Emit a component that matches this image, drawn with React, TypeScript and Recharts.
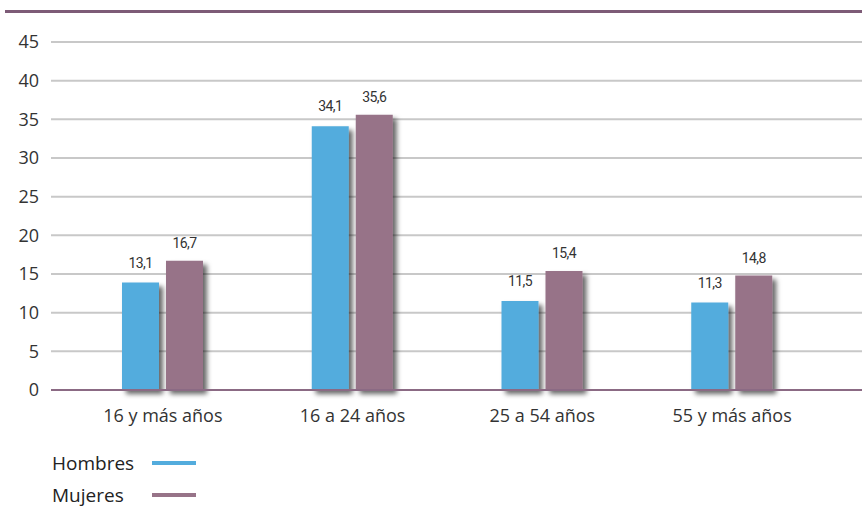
import { BarChart, Bar, XAxis, YAxis, CartesianGrid, LabelList } from "recharts";

const categorias = ["16 y más años", "16 a 24 años", "25 a 54 años", "55 y más años"];
const hombres = [13.9, 34.1, 11.5, 11.3];
const hombresEtiquetas = ["13,1", "34,1", "11,5", "11,3"];
const mujeres = [16.7, 35.6, 15.4, 14.8];
const mujeresEtiquetas = ["16,7", "35,6", "15,4", "14,8"];
const ticksY = [0, 5, 10, 15, 20, 25, 30, 35, 40, 45];

const AZUL = "#53acdd";
const MORADO = "#977388";

const data = categorias.map((c, i) => ({
  name: c,
  hombres: hombres[i],
  hombresLabel: hombresEtiquetas[i],
  mujeres: mujeres[i],
  mujeresLabel: mujeresEtiquetas[i],
}));

const font = "'Open Sans', 'Noto Sans', sans-serif";
const narrow = "Roboto, 'Noto Sans', sans-serif";

function App() {
  return (
    <div
      style={{
        position: "absolute",
        left: 0,
        top: 0,
        width: 862,
        height: 509,
        background: "#fff",
        fontFamily: font,
        overflow: "hidden",
      }}
    >
      <div
        style={{
          position: "absolute",
          left: 5,
          top: 10,
          width: 857,
          height: 3,
          background: "#7d5b77",
        }}
      />
      <BarChart
        width={862}
        height={509}
        data={data}
        margin={{ top: 42, right: 0, bottom: 89, left: 0 }}
        barSize={37}
        barGap={7}
      >
        <defs>
          <filter id="sombra" x="-20%" y="-10%" width="150%" height="130%">
            <feDropShadow dx={4} dy={4} stdDeviation={2.5} floodColor="#000" floodOpacity={0.6} />
          </filter>
        </defs>
        <CartesianGrid vertical={false} stroke="#c8c8c8" strokeWidth={2} />
        <XAxis
          dataKey="name"
          padding={{ left: 17, right: 35 }}
          axisLine={{ stroke: "#8b6a84", strokeWidth: 2 }}
          tickLine={false}
          tickMargin={13}
          height={30}
          tick={{ fill: "#333", fontSize: 18, fontFamily: font }}
        />
        <YAxis
          width={51}
          domain={[0, 45]}
          ticks={ticksY}
          axisLine={false}
          tickLine={false}
          tickSize={0}
          tickMargin={12}
          interval={0}
          tick={{ fill: "#333", fontSize: 18, fontFamily: font }}
        />
        <Bar dataKey="hombres" fill={AZUL} filter="url(#sombra)" isAnimationActive={false}>
          <LabelList
            dataKey="hombresLabel"
            position="top"
            offset={15}
            style={{ fill: "#333", fontSize: 14, fontFamily: narrow, letterSpacing: -0.6 }}
          />
        </Bar>
        <Bar dataKey="mujeres" fill={MORADO} filter="url(#sombra)" isAnimationActive={false}>
          <LabelList
            dataKey="mujeresLabel"
            position="top"
            offset={13}
            style={{ fill: "#333", fontSize: 14, fontFamily: narrow, letterSpacing: -0.6 }}
          />
        </Bar>
      </BarChart>
      {[
        { label: "Hombres", color: AZUL, y: 463 },
        { label: "Mujeres", color: MORADO, y: 495 },
      ].map((l) => (
        <div key={l.label}>
          <div
            style={{
              position: "absolute",
              left: 52,
              top: l.y - 13,
              fontSize: 19,
              lineHeight: "26px",
              color: "#222",
            }}
          >
            {l.label}
          </div>
          <div
            style={{
              position: "absolute",
              left: 152,
              top: l.y - 2,
              width: 44,
              height: 4,
              background: l.color,
            }}
          />
        </div>
      ))}
    </div>
  );
}

export default App;
